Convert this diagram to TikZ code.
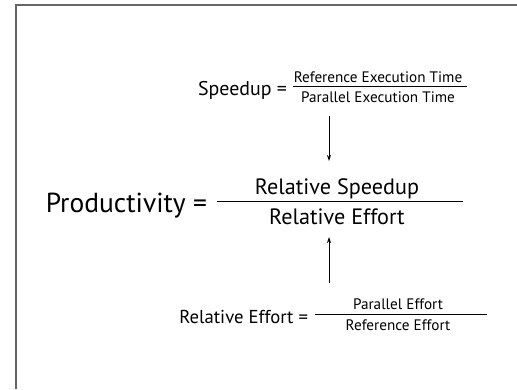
\documentclass[tikz,border=0pt]{standalone}
\usepackage{fontspec}
\setmainfont{PT Sans}
\usetikzlibrary{arrows.meta}
\begin{document}
\begin{tikzpicture}[x=1pt,y=-1pt,
  txt/.style={inner sep=0pt,outer sep=0pt,anchor=base},
  big/.style={txt,font=\fontsize{27.5}{27.5}\selectfont},
  mid/.style={txt,font=\fontsize{22.2}{22.2}\selectfont},
  med/.style={txt,font=\fontsize{19.9}{19.9}\selectfont},
  medb/.style={txt,font=\fontsize{18.7}{18.7}\selectfont},
  sml/.style={txt,font=\fontsize{15.2}{15.2}\selectfont},
  fracline/.style={line width=0.9pt},
  arr/.style={line width=0.8pt,-{Stealth[length=6pt,width=4pt]}},
  frame/.style={draw=black!60,line width=1.3pt}]
\useasboundingbox (0,0) rectangle (517,389);
\draw[frame] (16,389) -- (16,5) -- (517,5);
% Speedup
\node[med,anchor=base east] (sp) at (287,95) {Speedup =};
\node[sml] (ret) at (378,82) {Reference Execution Time};
\node[sml] (pet) at (378,102) {Parallel Execution Time};
\draw[fracline] (293,86) -- (467,86);
% Productivity
\node[big,anchor=base east] (prod) at (207,212) {Productivity =};
\node[mid] (rs) at (337,194) {Relative Speedup};
\node[mid] (re) at (337,224) {Relative Effort};
\draw[fracline] (217,201) -- (463,201);
% Relative effort
\node[medb,anchor=base east] (rel) at (308,323) {Relative Effort =};
\node[sml] (pe) at (398,309) {Parallel Effort};
\node[sml] (ref) at (398,330) {Reference Effort};
\draw[fracline] (315,314) -- (487,314);
% arrows
\coordinate (a1) at (329,116);
\coordinate (a2) at (329,161);
\coordinate (b1) at (329,283);
\coordinate (b2) at (329,237);
\draw[arr] (a1) -- (a2);
\draw[arr] (b1) -- (b2);
\end{tikzpicture}
\end{document}
